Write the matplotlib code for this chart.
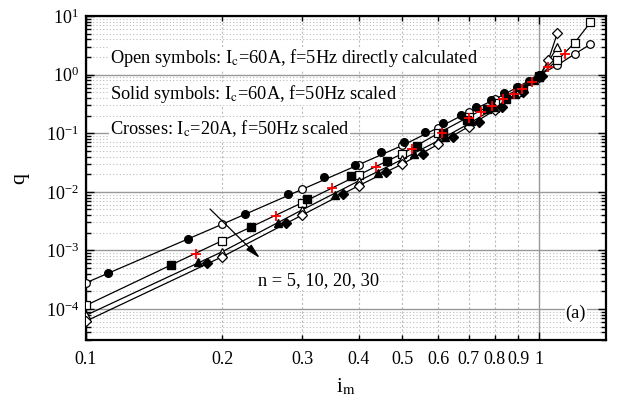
import matplotlib
matplotlib.use('Agg')
import matplotlib.pyplot as plt
from matplotlib.ticker import FixedLocator, FixedFormatter, LogLocator, NullFormatter

plt.rcParams['font.family'] = ['Liberation Serif', 'DejaVu Serif']
plt.rcParams['mathtext.fontset'] = 'stix'

# open symbols: Ic=60A, f=5Hz directly calculated
x_open = [0.1, 0.2, 0.3, 0.4, 0.5, 0.6, 0.7, 0.8, 0.9, 1.0, 1.1, 1.2, 1.3]
q_open_n5 = [2.8e-4, 2.8e-3, 1.1e-2, 2.9e-2, 6.2e-2, 0.125, 0.23, 0.38, 0.62, 0.98, 1.46, 2.25, 3.3]
q_open_n10 = [1.15e-4, 1.47e-3, 6.5e-3, 1.94e-2, 4.5e-2, 0.1, 0.19, 0.33, 0.57, 0.95, 1.77, 3.5, 7.8]
x_open_n20 = [0.1, 0.2, 0.3, 0.4, 0.5, 0.6, 0.7, 0.8, 0.9, 1.0, 1.1]
q_open_n20 = [7.8e-5, 9.5e-4, 4.9e-3, 1.53e-2, 3.6e-2, 0.075, 0.145, 0.27, 0.5, 0.9, 3.0]
x_open_n30 = [0.1, 0.2, 0.3, 0.4, 0.5, 0.6, 0.7, 0.8, 0.9, 1.0, 1.05, 1.1]
q_open_n30 = [6.2e-5, 7.8e-4, 4.0e-3, 1.27e-2, 3.0e-2, 0.065, 0.13, 0.25, 0.48, 0.9, 1.77, 5.2]

# solid symbols: Ic=60A, f=50Hz scaled
x_sol_n5 = [0.112, 0.168, 0.224, 0.28, 0.336, 0.392, 0.448, 0.504, 0.56, 0.616, 0.672,
            0.728, 0.784, 0.84, 0.896, 0.952, 1.008]
q_sol_n5 = [4.1e-4, 1.57e-3, 4.2e-3, 9.1e-3, 1.77e-2, 2.86e-2, 4.7e-2, 7.0e-2, 0.105, 0.15,
            0.205, 0.28, 0.37, 0.48, 0.62, 0.78, 1.0]
x_sol_n10 = [0.154, 0.231, 0.308, 0.385, 0.462, 0.539, 0.616, 0.693, 0.77, 0.847, 0.924, 1.001]
q_sol_n10 = [5.6e-4, 2.54e-3, 7.45e-3, 1.86e-2, 3.4e-2, 6.0e-2, 0.1, 0.17, 0.26, 0.39, 0.58, 0.9]
x_sol_n20 = [0.177, 0.2655, 0.354, 0.442, 0.531, 0.62, 0.708, 0.797, 0.885, 0.974]
q_sol_n20 = [6.3e-4, 2.9e-3, 8.9e-3, 2.12e-2, 4.5e-2, 8.8e-2, 0.16, 0.28, 0.47, 0.8]
x_sol_n30 = [0.1846, 0.277, 0.369, 0.461, 0.554, 0.646, 0.738, 0.83, 0.923, 1.015]
q_sol_n30 = [6.0e-4, 2.9e-3, 9.3e-3, 2.2e-2, 4.4e-2, 8.5e-2, 0.155, 0.28, 0.5, 0.95]

# crosses: Ic=20A, f=50Hz scaled
x_cross = [0.175, 0.2625, 0.35, 0.4375, 0.525, 0.6125, 0.7, 0.745, 0.79, 0.835, 0.88,
           0.92, 0.965, 1.05, 1.14]
q_cross = [8.7e-4, 3.86e-3, 1.17e-2, 2.68e-2, 5.4e-2, 0.1, 0.18, 0.228, 0.29, 0.38, 0.46,
           0.58, 0.76, 1.36, 2.25]

x_ticks = [0.1, 0.2, 0.3, 0.4, 0.5, 0.6, 0.7, 0.8, 0.9, 1]
x_tick_labels = ['0.1', '0.2', '0.3', '0.4', '0.5', '0.6', '0.7', '0.8', '0.9', '1']

fig = plt.figure(figsize=(6.2, 4.04), dpi=100)
ax = fig.add_axes([0.1387, 0.1584, 0.8383, 0.8016])
ax.set_xscale('log')
ax.set_yscale('log')

ms = 5.5
open_kw = dict(color='black', lw=0.9, mfc='white', mec='black', mew=0.9, ms=ms, zorder=3)
ax.plot(x_open, q_open_n5, marker='o', **open_kw)
ax.plot(x_open, q_open_n10, marker='s', **open_kw)
ax.plot(x_open_n20, q_open_n20, marker='^', **open_kw)
ax.plot(x_open_n30, q_open_n30, marker='D', **dict(open_kw, ms=ms - 0.8))

sol_kw = dict(ls='none', color='black', ms=ms, zorder=4)
ax.plot(x_sol_n5, q_sol_n5, marker='o', **sol_kw)
ax.plot(x_sol_n10, q_sol_n10, marker='s', **sol_kw)
ax.plot(x_sol_n20, q_sol_n20, marker='^', **sol_kw)
ax.plot(x_sol_n30, q_sol_n30, marker='D', **dict(sol_kw, ms=ms - 0.8))

ax.plot(x_cross, q_cross, ls='none', marker='+', color='red', ms=6.5, mew=1.3, zorder=5)

ax.set_xlim(0.1, 1.406)
ax.set_ylim(2.95e-5, 10)

ax.xaxis.set_major_locator(FixedLocator([0.1, 1]))
ax.xaxis.set_major_formatter(FixedFormatter(['0.1', '1']))
ax.xaxis.set_minor_locator(FixedLocator(x_ticks[1:-1]))
ax.xaxis.set_minor_formatter(FixedFormatter(x_tick_labels[1:-1]))
ax.yaxis.set_major_locator(LogLocator(base=10, numticks=20))
ax.yaxis.set_minor_locator(LogLocator(base=10, subs=range(2, 10), numticks=20))
ax.yaxis.set_minor_formatter(NullFormatter())

ax.tick_params(which='both', direction='in', top=True, right=True, labelsize=13, width=1)
ax.tick_params(which='major', length=6)
ax.tick_params(which='minor', length=3.5)
ax.tick_params(axis='x', which='both', pad=8)
ax.tick_params(axis='y', which='both', pad=5)

ax.grid(True, which='major', axis='both', color='#999999', lw=1.0, ls='-')
ax.grid(True, which='minor', axis='y', color='#bbbbbb', lw=0.8, ls=(0, (1, 2)))
ax.grid(True, which='minor', axis='x', color='#bbbbbb', lw=0.8, ls=(0, (2, 2)))
ax.set_axisbelow(True)

for s in ax.spines.values():
    s.set_linewidth(1.6)

ax.set_xlabel(r'i$_{\rm m}$', fontsize=15, labelpad=6)
ax.set_ylabel('q', fontsize=16, labelpad=12)

box = dict(facecolor='white', edgecolor='none', pad=0.5)
fs = 13.2
ax.text(0.046, 0.870, r'Open symbols: I$_{\rm c}$=60A, f=5Hz directly calculated',
        transform=ax.transAxes, fontsize=fs, va='center', ha='left', bbox=box)
ax.text(0.046, 0.761, r'Solid symbols: I$_{\rm c}$=60A, f=50Hz scaled',
        transform=ax.transAxes, fontsize=fs, va='center', ha='left', bbox=box)
ax.text(0.046, 0.653, r'Crosses: I$_{\rm c}$=20A, f=50Hz scaled',
        transform=ax.transAxes, fontsize=fs, va='center', ha='left', bbox=box)

ax.annotate('', xy=(0.2446, 6.86e-4), xytext=(0.186, 5.5e-3),
            arrowprops=dict(arrowstyle='-|>,head_length=0.9,head_width=0.22',
                            color='black', lw=0.9), zorder=6)
ax.text(0.24, 3.0e-4, 'n = 5, 10, 20, 30', fontsize=fs, va='center', ha='left', bbox=box)
ax.text(0.962, 0.083, '(a)', transform=ax.transAxes, fontsize=fs, va='center', ha='right',
        bbox=box)

fig.savefig('out.png', dpi=100)
